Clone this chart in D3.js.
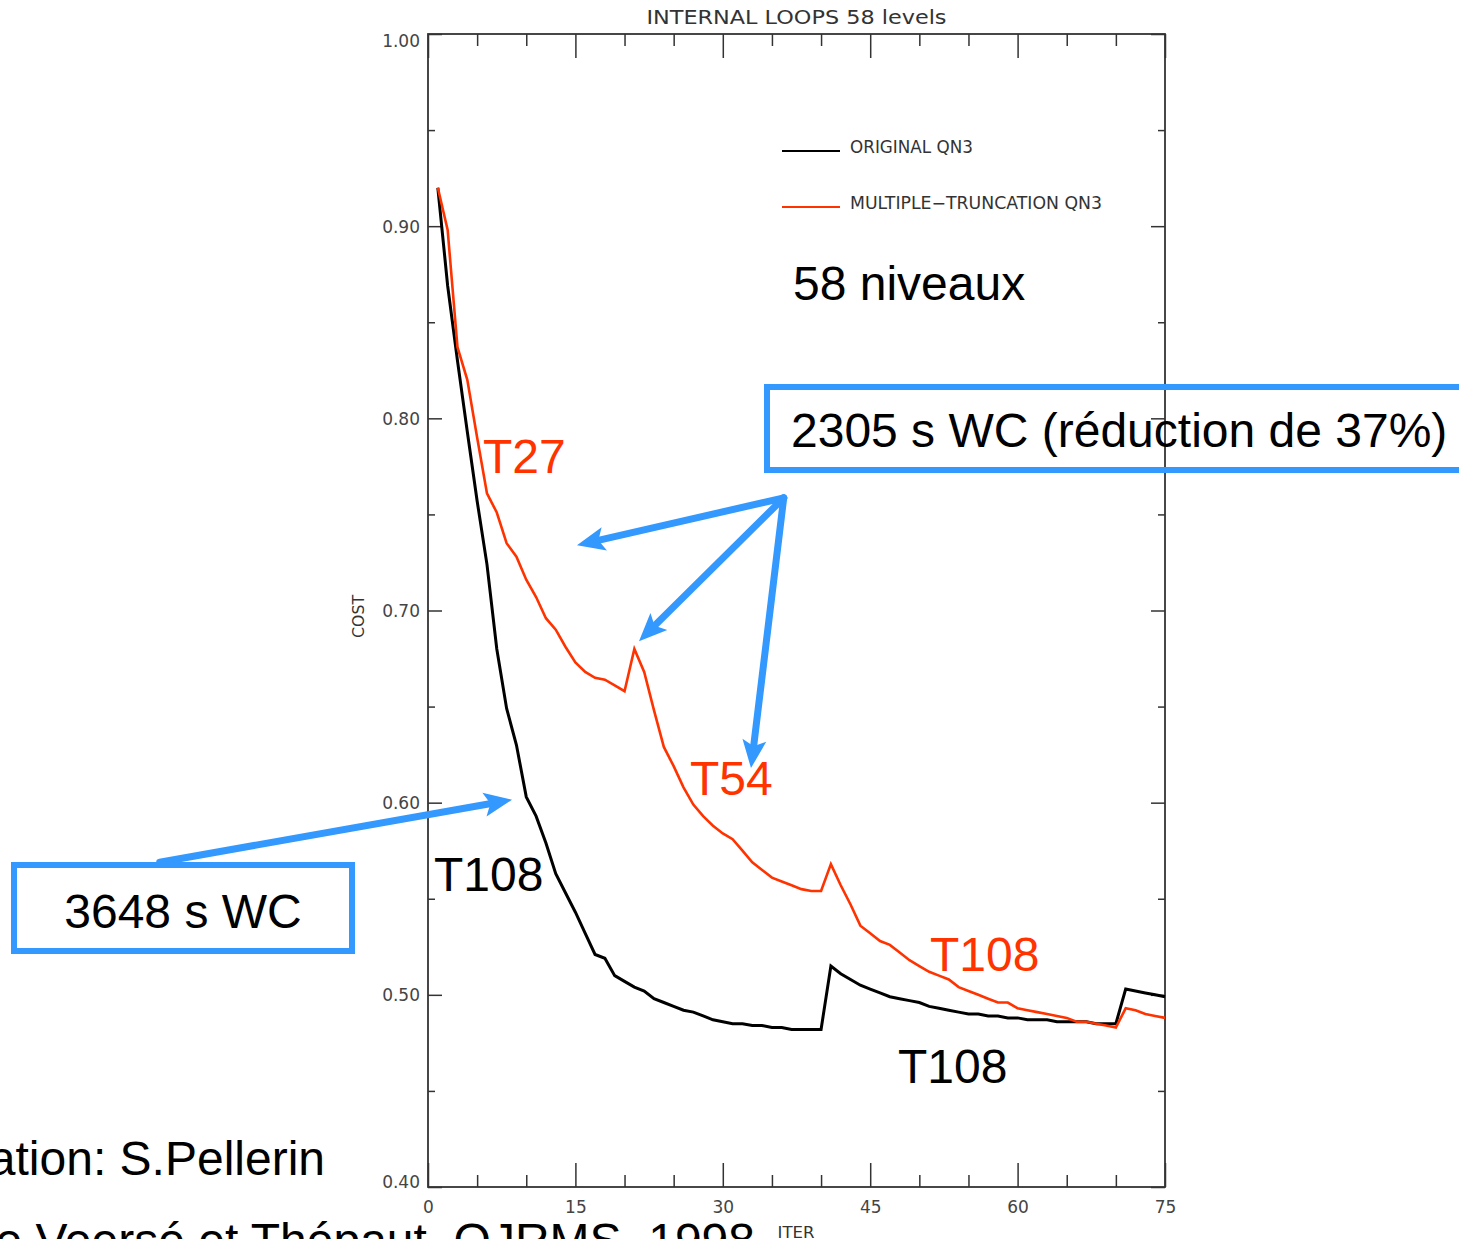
<!DOCTYPE html>
<html>
<head>
<meta charset="utf-8">
<title>INTERNAL LOOPS 58 levels</title>
<script src="https://cdn.jsdelivr.net/npm/d3@7"></script>
<style>
  body { margin: 0; background: #fff; }
  svg { display: block; }
</style>
</head>
<body>
<svg id="chart" width="1459" height="1239"></svg>
<script>
// Cost per inner-loop iteration (iterations 1..75)
const originalCost = [
  0.920, 0.869, 0.830, 0.793, 0.757, 0.724, 0.680, 0.649, 0.630, 0.603,
  0.593, 0.579, 0.563, 0.553, 0.543, 0.532, 0.521, 0.519, 0.510, 0.507,
  0.504, 0.502, 0.498, 0.496, 0.494, 0.492, 0.491, 0.489, 0.487, 0.486,
  0.485, 0.485, 0.484, 0.484, 0.483, 0.483, 0.482, 0.482, 0.482, 0.482,
  0.515, 0.511, 0.508, 0.505, 0.503, 0.501, 0.499, 0.498, 0.497, 0.496,
  0.494, 0.493, 0.492, 0.491, 0.490, 0.490, 0.489, 0.489, 0.488, 0.488,
  0.487, 0.487, 0.487, 0.486, 0.486, 0.486, 0.486, 0.485, 0.485, 0.485,
  0.503, 0.502, 0.501, 0.500, 0.499
];
const multiTruncCost = [
  0.920, 0.898, 0.837, 0.820, 0.790, 0.761, 0.751, 0.735, 0.728, 0.716,
  0.707, 0.696, 0.690, 0.681, 0.673, 0.668, 0.665, 0.664, 0.661, 0.658,
  0.680, 0.668, 0.648, 0.629, 0.619, 0.608, 0.599, 0.593, 0.588, 0.584,
  0.581, 0.575, 0.569, 0.565, 0.561, 0.559, 0.557, 0.555, 0.554, 0.554,
  0.568, 0.557, 0.547, 0.536, 0.532, 0.528, 0.526, 0.522, 0.518, 0.515,
  0.512, 0.510, 0.508, 0.504, 0.502, 0.500, 0.498, 0.496, 0.496, 0.493,
  0.492, 0.491, 0.490, 0.489, 0.488, 0.486, 0.486, 0.485, 0.484, 0.483,
  0.493, 0.492, 0.490, 0.489, 0.488
];
const seriesNames = ["ORIGINAL  QN3", "MULTIPLE\u2212TRUNCATION  QN3"];
const seriesColors = ["#000000", "#ff3300"];

const xMajorTicks = [0, 15, 30, 45, 60, 75];
const xMinorTicks = [5, 10, 20, 25, 35, 40, 50, 55, 65, 70];
const yMajorTicks = [0.40, 0.50, 0.60, 0.70, 0.80, 0.90, 1.00];
const yMinorTicks = [0.45, 0.55, 0.65, 0.75, 0.85, 0.95];

// Resolution labels placed along the curves (iteration, cost at text baseline)
const curveLabels = [
  { text: "T27",  iter: 5.6,  cost: 0.7716, color: "#ff3300" },
  { text: "T54",  iter: 26.66, cost: 0.6041, color: "#ff3300" },
  { text: "T108", iter: 51.08, cost: 0.5125, color: "#ff3300" },
  { text: "T108", iter: 0.61, cost: 0.5541, color: "#000000" },
  { text: "T108", iter: 47.83, cost: 0.4542, color: "#000000" },
  { text: "58 niveaux", iter: 37.14, cost: 0.8616, color: "#000000" }
];

// Pointer arrows: common origin for the multi-truncation callout, then tips
const calloutOrigin = { iter: 36.2, cost: 0.7586 };
const calloutTips = [
  { iter: 15.16, cost: 0.734 },
  { iter: 21.47, cost: 0.684 },
  { iter: 32.87, cost: 0.618 }
];
const originalArrow = { from: { iter: -27.3, cost: 0.569 }, to: { iter: 8.55, cost: 0.6015 } };

const svg = d3.select("#chart");
const W = 1459, H = 1239;
svg.append("rect").attr("width", W).attr("height", H).attr("fill", "#fff");

const plot = { left: 428, right: 1165, top: 34, bottom: 1187 };
const x = d3.scaleLinear().domain([0, 75]).range([plot.left, plot.right]);
const y = d3.scaleLinear().domain([0.40, 1.00]).range([plot.bottom, plot.top]);

const axisColor = "#333";
const tickFont = "'DejaVu Sans', sans-serif";

function styleAxis(g, showLabels) {
  g.select(".domain").remove();
  g.selectAll(".tick line").attr("stroke", axisColor).attr("stroke-width", 1.5);
  g.selectAll(".tick text")
    .attr("fill", showLabels ? "#444" : "none")
    .style("font-family", tickFont)
    .style("font-size", "17px");
}

// Bottom axis: major ticks with labels, minor ticks without
svg.append("g").attr("transform", `translate(0,${plot.bottom})`)
  .call(d3.axisBottom(x).tickValues(xMajorTicks).tickSize(-24).tickPadding(14).tickFormat(d3.format("d")))
  .call(g => styleAxis(g, true));
svg.append("g").attr("transform", `translate(0,${plot.bottom})`)
  .call(d3.axisBottom(x).tickValues(xMinorTicks).tickSize(-12).tickFormat(""))
  .call(g => styleAxis(g, false));
// Top axis: mirrored ticks, no labels
svg.append("g").attr("transform", `translate(0,${plot.top})`)
  .call(d3.axisTop(x).tickValues(xMajorTicks).tickSize(-24).tickFormat(""))
  .call(g => styleAxis(g, false));
svg.append("g").attr("transform", `translate(0,${plot.top})`)
  .call(d3.axisTop(x).tickValues(xMinorTicks).tickSize(-12).tickFormat(""))
  .call(g => styleAxis(g, false));

// Left axis with labels
const leftMajor = svg.append("g").attr("transform", `translate(${plot.left},0)`)
  .call(d3.axisLeft(y).tickValues(yMajorTicks).tickSize(-14).tickPadding(8).tickFormat(d3.format(".2f")))
  .call(g => styleAxis(g, true));
// keep the end labels inside the frame height
leftMajor.selectAll(".tick text").attr("dy", d => d === 1.00 ? "0.76em" : (d === 0.40 ? "0.0em" : "0.36em"));
svg.append("g").attr("transform", `translate(${plot.left},0)`)
  .call(d3.axisLeft(y).tickValues(yMinorTicks).tickSize(-7).tickFormat(""))
  .call(g => styleAxis(g, false));
// Right axis: mirrored ticks
svg.append("g").attr("transform", `translate(${plot.right},0)`)
  .call(d3.axisRight(y).tickValues(yMajorTicks).tickSize(-14).tickFormat(""))
  .call(g => styleAxis(g, false));
svg.append("g").attr("transform", `translate(${plot.right},0)`)
  .call(d3.axisRight(y).tickValues(yMinorTicks).tickSize(-7).tickFormat(""))
  .call(g => styleAxis(g, false));

// Frame
svg.append("rect")
  .attr("x", plot.left).attr("y", plot.top)
  .attr("width", plot.right - plot.left).attr("height", plot.bottom - plot.top)
  .attr("fill", "none").attr("stroke", axisColor).attr("stroke-width", 1.8);

// Title and axis titles
svg.append("text")
  .attr("x", (plot.left + plot.right) / 2).attr("y", 24)
  .attr("text-anchor", "middle")
  .attr("textLength", 300).attr("lengthAdjust", "spacingAndGlyphs")
  .style("font-family", tickFont).style("font-size", "20px").attr("fill", "#333")
  .text("INTERNAL  LOOPS  58  levels");
svg.append("text")
  .attr("transform", `translate(364,${(plot.top + plot.bottom) / 2 + 6}) rotate(-90)`)
  .attr("text-anchor", "middle")
  .attr("textLength", 43).attr("lengthAdjust", "spacingAndGlyphs")
  .style("font-family", tickFont).style("font-size", "15px").attr("fill", "#333")
  .text("COST");
svg.append("text")
  .attr("x", 796).attr("y", 1238)
  .attr("text-anchor", "middle")
  .attr("textLength", 37).attr("lengthAdjust", "spacingAndGlyphs")
  .style("font-family", tickFont).style("font-size", "15px").attr("fill", "#333")
  .text("ITER");

// Curves
const line = d3.line()
  .x((d, i) => x(i + 1))
  .y(d => y(d));
const series = [
  { name: seriesNames[0], values: originalCost, color: seriesColors[0], width: 3 },
  { name: seriesNames[1], values: multiTruncCost, color: seriesColors[1], width: 2.6 }
];
svg.append("g").selectAll("path").data(series).join("path")
  .attr("d", d => line(d.values))
  .attr("fill", "none")
  .attr("stroke", d => d.color)
  .attr("stroke-width", d => d.width)
  .attr("stroke-linejoin", "miter");

// Legend
const legend = svg.append("g").attr("transform", "translate(782,151)");
const legendLengths = [123, 252];
legend.selectAll("g").data(series).join("g")
  .attr("transform", (d, i) => `translate(0,${i * 56})`)
  .each(function (d, i) {
    const g = d3.select(this);
    g.append("line").attr("x1", 0).attr("x2", 58).attr("y1", 0).attr("y2", 0)
      .attr("stroke", d.color).attr("stroke-width", 2.2);
    g.append("text").attr("x", 68).attr("y", 2)
      .attr("textLength", legendLengths[i]).attr("lengthAdjust", "spacingAndGlyphs")
      .style("font-family", tickFont).style("font-size", "17px").attr("fill", "#333")
      .text(d.name);
  });

// Curve labels
const bigFont = "'Liberation Sans', Arial, sans-serif";
svg.append("g").selectAll("text").data(curveLabels).join("text")
  .attr("x", d => x(d.iter)).attr("y", d => y(d.cost))
  .attr("fill", d => d.color)
  .style("font-family", bigFont).style("font-size", "48px")
  .text(d => d.text);

// Arrows
const blue = "#3399ff";
function arrow(x1, y1, x2, y2) {
  const dx = x2 - x1, dy = y2 - y1, len = Math.hypot(dx, dy);
  const ux = dx / len, uy = dy / len;
  const headLen = 28, headHalf = 12;
  const bx = x2 - ux * headLen, by = y2 - uy * headLen;
  svg.append("line")
    .attr("x1", x1).attr("y1", y1)
    .attr("x2", bx + ux * 4).attr("y2", by + uy * 4)
    .attr("stroke", blue).attr("stroke-width", 7).attr("stroke-linecap", "round");
  svg.append("path")
    .attr("d", `M${x2},${y2} L${bx - uy * headHalf},${by + ux * headHalf} L${bx + ux * 6},${by + uy * 6} L${bx + uy * headHalf},${by - ux * headHalf} Z`)
    .attr("fill", blue);
}
calloutTips.forEach(t => arrow(x(calloutOrigin.iter), y(calloutOrigin.cost), x(t.iter), y(t.cost)));
arrow(x(originalArrow.from.iter), y(originalArrow.from.cost), x(originalArrow.to.iter), y(originalArrow.to.cost));

// Callout boxes
svg.append("rect")
  .attr("x", 767).attr("y", 387).attr("width", 720).attr("height", 83)
  .attr("fill", "none").attr("stroke", blue).attr("stroke-width", 6);
svg.append("text")
  .attr("x", 791).attr("y", 447)
  .style("font-family", bigFont).style("font-size", "48px").attr("fill", "#000")
  .text("2305 s WC (r\u00e9duction de 37%)");

svg.append("rect")
  .attr("x", 14).attr("y", 865).attr("width", 338).attr("height", 86)
  .attr("fill", "none").attr("stroke", blue).attr("stroke-width", 6);
svg.append("text")
  .attr("x", 183).attr("y", 928).attr("text-anchor", "middle")
  .style("font-family", bigFont).style("font-size", "48px").attr("fill", "#000")
  .text("3648 s WC");

// Credits
svg.append("text")
  .attr("x", 325).attr("y", 1175).attr("text-anchor", "end")
  .style("font-family", bigFont).style("font-size", "48px").attr("fill", "#000")
  .text("Impl\u00e9mentation: S.Pellerin");
svg.append("text")
  .attr("x", 755).attr("y", 1257).attr("text-anchor", "end")
  .style("font-family", bigFont).style("font-size", "48px").attr("fill", "#000")
  .text("M\u00e9thode de Veers\u00e9 et Th\u00e9paut, QJRMS, 1998");
</script>
</body>
</html>
